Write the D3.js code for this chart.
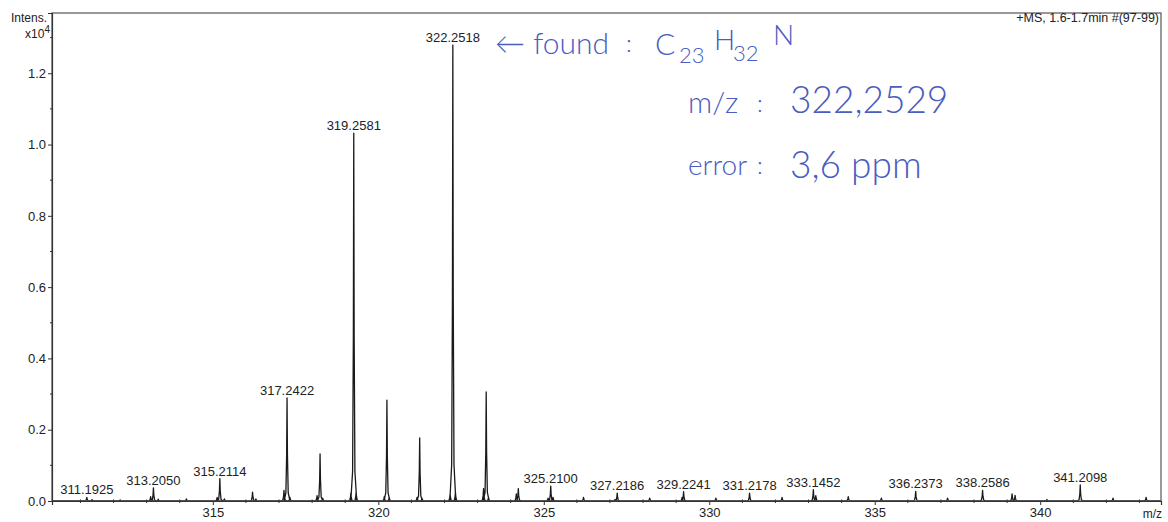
<!DOCTYPE html>
<html>
<head>
<meta charset="utf-8">
<script src="https://cdn.jsdelivr.net/npm/d3@7/dist/d3.min.js"></script>
<style>
  html, body { margin: 0; padding: 0; background: #fff; }
  svg { display: block; }
  text { font-family: "Liberation Sans", Arial, sans-serif; fill: #222; }
  .hand text { font-family: Lato, "Open Sans", sans-serif; font-weight: 300; fill: #4a5cbf; }
</style>
</head>
<body>
<svg width="1168" height="522"></svg>
<script>
// peak list (m/z, intensity in x10^4)
const peakMz = [
  311.1925, 311.35, 312.20, 313.12, 313.2050, 313.35, 314.20, 315.13, 315.2114, 315.35,
  316.20, 316.30, 317.15, 317.2422, 317.33, 318.15, 318.24, 318.32, 319.17, 319.2581,
  319.33, 320.18, 320.26, 320.33, 321.17, 321.25, 321.32, 322.17, 322.2518, 322.33,
  323.18, 323.26, 323.33, 324.17, 324.23, 325.13, 325.2100, 325.28, 326.20, 327.15,
  327.2186, 328.20, 329.18, 329.2241, 330.20, 331.2178, 332.20, 333.1452, 333.22, 334.20,
  335.20, 336.2373, 337.20, 338.2586, 339.15, 339.24, 340.20, 341.2098, 342.20, 343.20
];
const peakInt = [
  0.010, 0.004, 0.003, 0.012, 0.037, 0.005, 0.006, 0.010, 0.063, 0.006,
  0.025, 0.006, 0.030, 0.289, 0.010, 0.015, 0.132, 0.008, 0.022, 1.032,
  0.025, 0.012, 0.283, 0.010, 0.010, 0.177, 0.008, 0.020, 1.279, 0.025,
  0.035, 0.306, 0.010, 0.020, 0.035, 0.008, 0.042, 0.010, 0.010, 0.004,
  0.022, 0.008, 0.010, 0.026, 0.008, 0.022, 0.010, 0.032, 0.015, 0.012,
  0.008, 0.027, 0.008, 0.030, 0.020, 0.016, 0.004, 0.045, 0.008, 0.010
];

// annotated peaks
const labelMz = [311.1925, 313.2050, 315.2114, 317.2422, 319.2581, 322.2518, 325.2100,
  327.2186, 329.2241, 331.2178, 333.1452, 336.2373, 338.2586, 341.2098];

const xTicks = [315, 320, 325, 330, 335, 340];
const xMinor = d3.range(311, 344);
const yTicks = [0.0, 0.2, 0.4, 0.6, 0.8, 1.0, 1.2];
const yMinor = [0.1, 0.3, 0.5, 0.7, 0.9, 1.1, 1.3];

const plotL = 52, plotR = 1161, plotT = 13, plotB = 501;

const x = d3.scaleLinear().domain([310.14, 343.65]).range([plotL, plotR]);
const y = d3.scaleLinear().domain([0, 1.369]).range([plotB, plotT]);

const svg = d3.select('svg');

// spectrum profile: each centroid drawn as a narrow peak glyph on the baseline
const pts = [[310.14, 0]];
peakMz.forEach((m, i) => {
  const h = peakInt[i];
  pts.push([m - 0.09, 0], [m - 0.035, h * 0.08], [m - 0.012, h * 0.45], [m, h],
           [m + 0.012, h * 0.45], [m + 0.035, h * 0.08], [m + 0.09, 0]);
});
pts.push([343.65, 0]);

const line = d3.line().x(d => x(d[0])).y(d => y(d[1]));

svg.append('path')
  .attr('d', line(pts))
  .attr('fill', 'none')
  .attr('stroke', '#1a1a1a')
  .attr('stroke-width', 1.3)
  .attr('stroke-linejoin', 'round');

// frame
svg.append('rect')
  .attr('x', plotL).attr('y', plotT)
  .attr('width', plotR - plotL).attr('height', plotB - plotT)
  .attr('fill', 'none').attr('stroke', '#555').attr('stroke-width', 1.2);

// axes
const yAxis = d3.axisLeft(y).tickValues(yTicks).tickSize(4).tickPadding(2)
  .tickFormat(d3.format('.1f'));
const gy = svg.append('g').attr('transform', `translate(${plotL},0)`).call(yAxis);
gy.append('g').selectAll('line').data(yMinor).join('line')
  .attr('x1', -2).attr('x2', 0)
  .attr('y1', d => y(d)).attr('y2', d => y(d))
  .attr('stroke', '#333');

const xAxis = d3.axisBottom(x).tickValues(xTicks).tickSize(4).tickPadding(3);
const gx = svg.append('g').attr('transform', `translate(0,${plotB})`).call(xAxis);
gx.append('g').selectAll('line').data(xMinor.filter(d => !xTicks.includes(d))).join('line')
  .attr('x1', d => x(d)).attr('x2', d => x(d))
  .attr('y1', -1.5).attr('y2', 2)
  .attr('stroke', '#333');

[gx, gy].forEach(g => {
  g.select('.domain').attr('stroke', '#333').attr('stroke-width', 1.2);
  g.selectAll('.tick line').attr('stroke', '#333');
  g.selectAll('.tick text')
    .style('font-family', '"Liberation Sans", Arial, sans-serif')
    .style('font-size', '13px').attr('fill', '#222');
});

// axis titles
svg.append('text').attr('x', 47).attr('y', 22).attr('text-anchor', 'end')
  .style('font-size', '12px').text('Intens.');
const xt = svg.append('text').attr('x', 50).attr('y', 38).attr('text-anchor', 'end')
  .style('font-size', '12px');
xt.append('tspan').text('x10');
xt.append('tspan').attr('dy', -5).style('font-size', '10px').text('4');
svg.append('text').attr('x', 1162).attr('y', 518).attr('text-anchor', 'end')
  .style('font-size', '12px').text('m/z');
svg.append('text').attr('x', 1159).attr('y', 22).attr('text-anchor', 'end')
  .style('font-size', '12.5px').text('+MS, 1.6-1.7min #(97-99)');

// peak labels
svg.append('g').selectAll('text').data(labelMz).join('text')
  .attr('x', d => x(d))
  .attr('y', d => y(peakInt[peakMz.indexOf(d)]) - 3)
  .attr('text-anchor', 'middle')
  .style('font-size', '13px')
  .text(d => d.toFixed(4));

// handwritten note
const hand = svg.append('g').attr('class', 'hand');
hand.append('text').attr('x', 495).attr('y', 54).style('font-size', '30px').text('\u2190 found');
hand.append('text').attr('x', 626).attr('y', 52).style('font-size', '24px').text(':');
hand.append('text').attr('x', 655).attr('y', 55).style('font-size', '30px').text('C');
hand.append('text').attr('x', 679).attr('y', 63).style('font-size', '22px').text('23');
hand.append('text').attr('x', 714).attr('y', 50).style('font-size', '28px').text('H');
hand.append('text').attr('x', 733).attr('y', 61).style('font-size', '22px').text('32');
hand.append('text').attr('x', 773).attr('y', 45).style('font-size', '28px').text('N');
hand.append('text').attr('x', 688).attr('y', 113).style('font-size', '30px').text('m/z');
hand.append('text').attr('x', 757).attr('y', 112).style('font-size', '24px').text(':');
hand.append('text').attr('x', 790).attr('y', 113).style('font-size', '37px').text('322,2529');
hand.append('text').attr('x', 688).attr('y', 175).style('font-size', '28px').text('error');
hand.append('text').attr('x', 757).attr('y', 174).style('font-size', '24px').text(':');
hand.append('text').attr('x', 790).attr('y', 178).style('font-size', '37px').text('3,6 ppm');
</script>
</body>
</html>
